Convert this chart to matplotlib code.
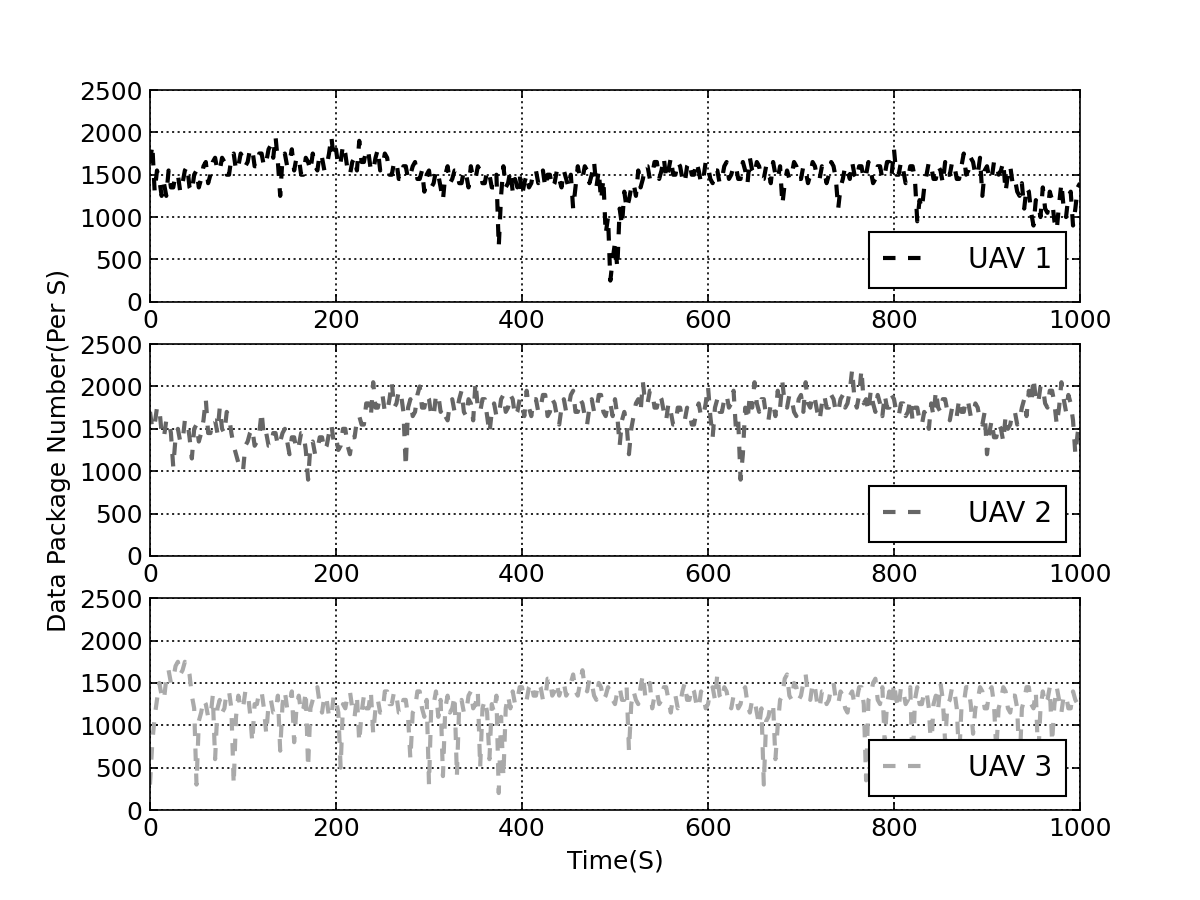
import numpy as np
import matplotlib
matplotlib.use('Agg')
import matplotlib.pyplot as plt

# packets per second, read every 2.5 s from the figure (0 ... 1000 s)
uav1 = [1650,1850,1300,1550,1450,1250,1400,1250,1550,1350,1350,1500,1500,1300,1400,1550,1600,1350,1300,1500,
        1550,1350,1450,1600,1650,1400,1500,1650,1700,1550,1550,1700,1650,1500,1500,1700,1750,1550,1600,1750,
        1700,1600,1650,1800,1800,1600,1600,1750,1750,1600,1650,1800,1850,1700,1950,1650,1250,1700,1750,1600,
        1650,1800,1550,1700,1700,1500,1500,1700,1650,1550,1750,1600,1550,1750,1700,1550,1600,1750,1950,1700,
        1800,1600,1650,1850,1750,1550,1500,1650,1700,1550,1900,1650,1650,1800,1750,1550,1550,1700,1800,1550,
        1600,1750,1700,1500,1500,1650,1650,1450,1450,1600,1600,1450,1500,1600,1650,1450,1450,1550,1300,1500,
        1550,1350,1400,1550,1500,1350,1200,1500,1600,1400,1450,1550,1550,1400,1400,1550,1500,1350,1600,1450,
        1450,1600,1550,1400,1400,1550,1500,1350,1350,1500,650,1250,1600,1350,1400,1550,1300,1450,1350,1500,
        1250,1400,1500,1350,1400,1550,1550,1400,1450,1550,1350,1500,1500,1350,1400,1550,1450,1350,1550,1450,
        1350,1500,1100,1350,1600,1450,1450,1600,1550,1400,1500,1650,1350,1550,1200,1450,800,1000,250,500,
        700,400,1100,900,1300,1100,1200,1350,1400,1250,1550,1350,1450,1600,1600,1450,1500,1650,1650,1450,
        1550,1700,1450,1550,1700,1500,1500,1650,1600,1450,1400,1600,1650,1500,1500,1650,1550,1400,1450,1650,
        1600,1450,1400,1550,1550,1400,1450,1600,1650,1450,1500,1600,1600,1450,1450,1650,1550,1400,1700,1550,
        1500,1650,1600,1450,1450,1600,1550,1400,1650,1500,1450,1600,1150,1400,1550,1450,1500,1650,1600,1450,
        1450,1600,1550,1400,1500,1650,1600,1450,1450,1600,1550,1400,1500,1650,1600,1450,1100,1350,1450,1600,
        1550,1450,1650,1500,1450,1600,1600,1450,1500,1650,1550,1400,1450,1600,1600,1450,1500,1650,1650,1500,
        1800,1500,1500,1650,1550,1400,1450,1600,1600,1450,950,1200,1100,1350,1500,1650,1600,1450,1450,1600,
        1550,1400,1650,1500,1500,1650,1600,1450,1450,1600,1750,1500,1550,1700,1650,1500,1500,1700,1250,1550,
        1600,1450,1450,1650,1650,1500,1550,1650,1300,1500,1600,1400,1450,1300,1250,1400,1100,1350,1300,1050,
        900,1200,1150,1000,1350,1100,1050,1300,1200,950,850,1150,1400,1100,1000,1250,1300,900,1100,1350,
        1400]

uav2 = [1700,1500,1550,1750,1750,1450,1400,1600,1600,1450,1050,1400,1500,1350,1350,1600,1600,1400,1150,1500,
        1550,1350,1450,1600,1850,1450,1450,1600,1600,1450,1750,1500,1450,1700,1650,1450,1300,1200,1100,1050,
        1000,1300,1350,1450,1500,1300,1350,1450,1700,1400,1450,1300,1300,1450,1450,1300,1350,1450,1500,1350,
        1200,1400,1400,1250,1300,1450,1450,1250,900,1300,1350,1200,1250,1400,1400,1250,1300,1450,1550,1350,
        1400,1250,1300,1500,1500,1300,1200,1400,1400,1600,1650,1550,1550,1800,1800,1650,2050,1750,1750,1900,
        1900,1700,1700,1850,2050,1750,1800,1950,1900,1700,1050,1750,1850,1650,1700,1900,2000,1750,1750,1900,
        1850,1650,1650,1900,1900,1700,1750,1650,1600,1800,1850,1700,1700,1850,1950,1700,1650,1850,1800,1600,
        2050,1750,1700,1850,1850,1650,1450,1700,1800,1650,1650,1850,1900,1700,1750,1900,1850,1650,1700,1850,
        1800,1650,1950,1750,1650,1850,1850,1700,1750,1900,1900,1650,1700,1850,1800,1650,1550,1750,1850,1700,
        1750,1900,1950,1700,1700,1850,1800,1650,1550,1750,1850,1700,1700,1900,1900,1700,1650,1800,1800,1650,
        1850,1650,1300,1600,1700,1550,1200,1500,1650,1800,1850,1700,2050,1800,1800,1950,1950,1750,1750,1900,
        1850,1700,1600,1800,1700,1550,1550,1750,1750,1600,1600,1750,1700,1550,1550,1700,1800,1650,1650,1800,
        2000,1650,1400,1750,1850,1700,1700,1850,1900,1750,1800,1950,1500,1600,900,1200,1750,1600,1900,1750,
        2050,1800,1700,1850,1850,1650,1600,1800,1800,1650,1950,1750,2050,1800,1750,1900,1850,1700,1650,1850,
        1900,1700,2050,1800,1750,1900,1850,1700,1600,1800,1900,1750,1750,1900,1850,1700,1700,1850,1900,1750,
        1800,1950,2200,1850,1750,1900,2200,1800,1850,1700,1950,1800,1700,1900,1800,1650,1900,1750,1750,1900,
        1850,1700,1650,1800,1800,1650,1700,1850,1600,1750,1750,1600,1550,1700,1650,1500,1800,1650,1950,1750,
        1700,1850,1850,1700,1600,1750,1750,1650,1850,1700,1700,1850,1800,1650,1650,1800,1750,1600,1550,1700,
        1200,1450,1600,1400,1400,1550,1500,1350,1650,1500,1550,1700,1700,1550,1600,1750,1850,1650,1950,1800,
        2100,1850,1800,2000,2000,1800,1750,1950,1950,1800,1550,1750,2050,1850,1700,1900,1800,1600,1200,1450,
        1600]

uav3 = [300,800,1100,1300,1500,1350,1300,1550,1650,1500,1550,1700,1750,1600,1650,1750,1700,1600,1350,1200,
        300,1050,1150,1300,1250,1100,1100,1350,600,1200,1300,1150,1200,1400,1400,1200,300,1100,1350,1200,
        1200,1400,1400,1150,800,1250,1250,1400,1400,1200,900,1250,1300,1150,1150,1350,700,1250,1400,1200,
        1250,1400,800,1200,1350,1150,1200,1400,500,1200,1300,1400,1450,1250,1150,1350,1300,1100,1100,1350,
        1300,1150,500,1250,1200,1350,1400,1200,1100,1350,800,1150,1350,1200,1200,1400,900,1200,1300,1150,
        1150,1400,1400,1250,1250,1400,1350,1150,1150,1300,1300,1100,600,1150,1200,1400,1400,1200,1100,1300,
        300,1250,1250,1400,1100,1300,400,1200,1350,1150,1200,1350,400,1250,1300,1150,1150,1350,1400,1200,
        1250,1400,500,1200,1300,1150,600,1250,1150,1350,200,1100,400,1200,1350,1200,1400,1250,1300,1450,
        1450,1300,1300,1450,1500,1350,1350,1500,1450,1300,1300,1550,1550,1350,1400,1500,1350,1450,1500,1350,
        1400,1500,1600,1400,1350,1500,1650,1450,1400,1550,1500,1350,1300,1500,1450,1300,1350,1450,1400,1300,
        1250,1400,1450,1300,1300,1450,700,1250,1400,1300,1250,1450,1600,1350,1350,1500,1200,1350,1400,1250,
        1300,1450,1450,1300,1150,1350,1350,1200,1250,1400,1500,1300,1300,1450,1400,1250,1200,1400,1350,1200,
        1250,1400,1450,1300,1600,1350,1300,1450,1400,1250,1200,1350,1350,1200,1250,1400,1450,1250,1150,1300,
        1300,1150,1000,1200,300,1050,1100,1250,1250,600,1000,1300,1350,1550,1600,1350,1300,1500,1450,1300,
        1350,1500,1600,1350,1300,1500,1450,1250,1200,1400,1400,1250,1300,1450,1500,1300,1250,1400,1350,1200,
        1150,1350,1400,1250,1300,1450,1450,1250,350,1300,1350,1500,1550,1300,1250,1450,800,1250,1400,1250,
        1500,1300,1200,1450,1400,1250,1300,1450,500,1300,1450,1250,1250,1400,1400,1200,700,1250,1350,1200,
        1500,1300,800,1250,1300,1450,1400,1200,600,1200,1250,1450,1450,1250,900,1200,1300,1450,1400,1200,
        1200,1400,1450,1250,700,1200,1300,1450,1400,1200,1150,1350,1350,1200,500,1200,1300,1450,1450,1250,
        1200,1400,600,1200,1400,1250,1300,1450,800,1250,1450,1300,1150,1350,1350,1200,1200,1400,1300,1250,
        1250]

t = np.linspace(0, 1000, len(uav1))

series = [uav1, uav2, uav3]
labels = ['UAV 1', 'UAV 2', 'UAV 3']
colors = ['black', '#666666', '#aaaaaa']

plt.rcParams['font.family'] = 'DejaVu Sans'
plt.rcParams['xtick.direction'] = 'in'
plt.rcParams['ytick.direction'] = 'in'
plt.rcParams['xtick.top'] = True
plt.rcParams['ytick.right'] = True
plt.rcParams['xtick.major.size'] = 4
plt.rcParams['ytick.major.size'] = 4
plt.rcParams['xtick.labelsize'] = 12
plt.rcParams['ytick.labelsize'] = 12
plt.rcParams['lines.scale_dashes'] = False

fig, axes = plt.subplots(3, 1, figsize=(8, 6), dpi=150)
fig.subplots_adjust(left=0.125, right=0.9, top=0.9, bottom=0.1, hspace=0.2)

for ax, y, lab, c in zip(axes, series, labels, colors):
    ax.plot(t, y, color=c, linestyle='--', dashes=(6, 6), linewidth=2, label=lab)
    ax.set_xlim(0, 1000)
    ax.set_ylim(0, 2500)
    ax.set_xticks([0, 200, 400, 600, 800, 1000])
    ax.set_yticks([0, 500, 1000, 1500, 2000, 2500])
    ax.grid(True, color='black', linestyle=':', linewidth=0.8)
    leg = ax.legend(loc='lower right', fontsize=13.5, fancybox=False, framealpha=1,
                    handlelength=1.7, handletextpad=1.3, borderpad=0.5, borderaxespad=0.5)
    leg.get_frame().set_edgecolor('black')
    leg.get_frame().set_linewidth(1.0)

axes[2].set_xlabel('Time(S)', fontsize=12)
axes[1].set_ylabel('Data Package Number(Per S)', fontsize=12)

fig.savefig('out.png', dpi=150, facecolor='white')
